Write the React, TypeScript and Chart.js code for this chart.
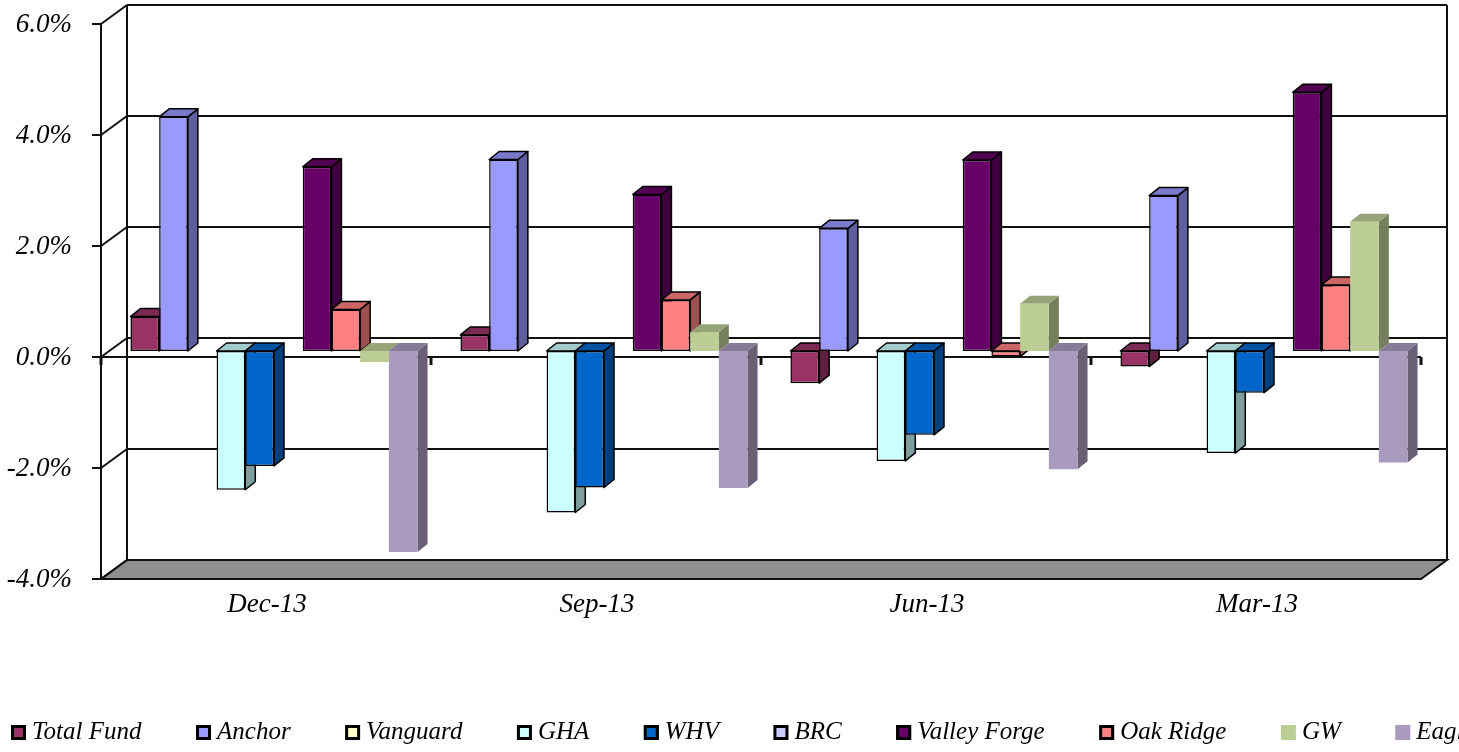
import React, { useEffect, useRef } from 'react';
import { Chart, registerables } from 'chart.js';

Chart.register(...registerables);

// ---------- data ----------
const categories = ['Dec-13', 'Sep-13', 'Jun-13', 'Mar-13'];
const seriesNames = ['Total Fund', 'Anchor', 'Vanguard', 'GHA', 'WHV', 'BRC', 'Valley Forge', 'Oak Ridge', 'GW', 'Eagle'];
const totalFund = [0.62, 0.29, -0.58, -0.28];
const anchor = [4.22, 3.45, 2.21, 2.8];
const vanguard = [null, null, null, null];
const gha = [-2.5, -2.91, -1.98, -1.84];
const whv = [-2.07, -2.46, -1.51, -0.75];
const brc = [null, null, null, null];
const valleyForge = [3.32, 2.82, 3.44, 4.66];
const oakRidge = [0.75, 0.92, -0.1, 1.19];
const gw = [-0.2, 0.34, 0.85, 2.33];
const eagle = [-3.62, -2.47, -2.13, -2.01];
const seriesValues = [totalFund, anchor, vanguard, gha, whv, brc, valleyForge, oakRidge, gw, eagle];
const seriesColors = ['#993366', '#9999FF', '#FFFFCC', '#CCFFFF', '#0066CC', '#CCCCFF', '#660066', '#FF8080', '#BCCD96', '#A99BBD'];
const seriesOutlined = [true, true, true, true, true, true, true, true, false, false];
const yMin = -4;
const yMax = 6;
const yStep = 2;

// ---------- style ----------
const FONT = '"Liberation Serif", "Times New Roman", serif';
const FRONT = { dx: -8, dy: 6 };
const BACK = { dx: 18, dy: -13 };
const DEPTH = { dx: 10, dy: -8 };

function shade(hex: string, f: number) {
  const n = parseInt(hex.slice(1), 16);
  const r = Math.round(((n >> 16) & 255) * f);
  const g = Math.round(((n >> 8) & 255) * f);
  const b = Math.round((n & 255) * f);
  return `rgb(${r},${g},${b})`;
}

function poly(ctx: CanvasRenderingContext2D, pts: number[][]) {
  ctx.beginPath();
  ctx.moveTo(pts[0][0], pts[0][1]);
  for (let i = 1; i < pts.length; i++) ctx.lineTo(pts[i][0], pts[i][1]);
  ctx.closePath();
}

function line(ctx: CanvasRenderingContext2D, x1: number, y1: number, x2: number, y2: number) {
  ctx.beginPath();
  ctx.moveTo(x1, y1);
  ctx.lineTo(x2, y2);
  ctx.stroke();
}

const wallsPlugin = {
  id: 'walls3d',
  beforeDatasetsDraw(chart: any) {
    const { ctx, chartArea } = chart;
    const ys = chart.scales.y;
    const L = chartArea.left;
    const R = chartArea.right;
    const yTop = ys.getPixelForValue(yMax);
    const yBot = ys.getPixelForValue(yMin);
    const y0 = ys.getPixelForValue(0);
    ctx.save();
    ctx.strokeStyle = '#111';
    ctx.lineWidth = 2;
    // floor
    poly(ctx, [
      [L + FRONT.dx, yBot + FRONT.dy],
      [R + FRONT.dx, yBot + FRONT.dy],
      [R + BACK.dx, yBot + BACK.dy],
      [L + BACK.dx, yBot + BACK.dy],
    ]);
    ctx.fillStyle = '#8f8f8f';
    ctx.fill();
    ctx.stroke();
    // back wall gridlines + side wall diagonals + tick marks
    for (let v = yMin; v <= yMax + 1e-9; v += yStep) {
      const p = ys.getPixelForValue(v);
      if (v > yMin) line(ctx, L + BACK.dx, p + BACK.dy, R + BACK.dx, p + BACK.dy);
      line(ctx, L + FRONT.dx, p + FRONT.dy, L + BACK.dx, p + BACK.dy);
      line(ctx, L + FRONT.dx - 9, p + FRONT.dy, L + FRONT.dx, p + FRONT.dy);
    }
    // back wall verticals
    line(ctx, L + BACK.dx, yTop + BACK.dy, L + BACK.dx, yBot + BACK.dy);
    line(ctx, R + BACK.dx, yTop + BACK.dy, R + BACK.dx, yBot + BACK.dy);
    // front vertical axis
    line(ctx, L + FRONT.dx, yTop + FRONT.dy, L + FRONT.dx, yBot + FRONT.dy);
    // front zero axis
    line(ctx, L + FRONT.dx, y0 + FRONT.dy, R + FRONT.dx, y0 + FRONT.dy);
    ctx.lineWidth = 3;
    const n = categories.length;
    for (let k = 0; k <= n; k++) {
      const bx = L + ((R - L) * k) / n + FRONT.dx;
      line(ctx, bx, y0 + FRONT.dy, bx, y0 + FRONT.dy + 8);
    }
    ctx.restore();

    // 3D side and top faces of bars (drawn left to right, fronts drawn later by Chart.js)
    const boxes: any[] = [];
    chart.data.datasets.forEach((ds: any, i: number) => {
      const meta = chart.getDatasetMeta(i);
      if (meta.hidden) return;
      meta.data.forEach((el: any, j: number) => {
        const val = ds.data[j];
        if (val === null || val === undefined) return;
        const p = el.getProps(['x', 'y', 'base', 'width'], true);
        boxes.push({
          left: p.x - p.width / 2,
          right: p.x + p.width / 2,
          top: Math.min(p.y, p.base),
          bottom: Math.max(p.y, p.base),
          color: seriesColors[i],
          outlined: seriesOutlined[i],
        });
      });
    });
    boxes.sort((a, b) => a.left - b.left);
    ctx.save();
    ctx.lineJoin = 'round';
    for (const b of boxes) {
      // side face
      poly(ctx, [
        [b.right, b.top],
        [b.right + DEPTH.dx, b.top + DEPTH.dy],
        [b.right + DEPTH.dx, b.bottom + DEPTH.dy],
        [b.right, b.bottom],
      ]);
      ctx.fillStyle = shade(b.color, 0.62);
      ctx.fill();
      if (b.outlined) {
        ctx.strokeStyle = '#000';
        ctx.lineWidth = 1.5;
        ctx.stroke();
      }
      // top face
      poly(ctx, [
        [b.left, b.top],
        [b.left + DEPTH.dx, b.top + DEPTH.dy],
        [b.right + DEPTH.dx, b.top + DEPTH.dy],
        [b.right, b.top],
      ]);
      ctx.fillStyle = shade(b.color, 0.8);
      ctx.fill();
      if (b.outlined) {
        ctx.strokeStyle = '#000';
        ctx.lineWidth = 1.5;
        ctx.stroke();
      }
    }
    ctx.restore();
  },
  afterDraw(chart: any) {
    const { ctx } = chart;
    ctx.save();
    ctx.font = `italic 25px ${FONT}`;
    ctx.textBaseline = 'middle';
    ctx.textAlign = 'left';
    let xPos = 11;
    const yc = 732;
    chart.data.datasets.forEach((ds: any, i: number) => {
      ctx.fillStyle = seriesColors[i];
      ctx.fillRect(xPos, yc - 7, 15, 15);
      if (seriesOutlined[i]) {
        ctx.strokeStyle = '#000';
        ctx.lineWidth = 3;
        ctx.strokeRect(xPos + 1.5, yc - 5.5, 12, 12);
      }
      ctx.fillStyle = '#000';
      ctx.fillText(ds.label, xPos + 21, yc);
      xPos += 21 + ctx.measureText(ds.label).width + 54.5;
    });
    ctx.restore();
  },
};

export default function App() {
  const canvasRef = useRef<HTMLCanvasElement | null>(null);

  useEffect(() => {
    if (!canvasRef.current) return;
    const chart = new Chart(canvasRef.current, {
      type: 'bar',
      data: {
        labels: categories,
        datasets: seriesNames.map((name, i) => ({
          label: name,
          data: seriesValues[i],
          backgroundColor: seriesColors[i],
          borderColor: '#000',
          borderWidth: seriesOutlined[i] ? 1.5 : 0,
          borderSkipped: false,
        })),
      },
      options: {
        responsive: false,
        animation: false,
        events: [],
        layout: { padding: { top: 18, right: 30, bottom: 0, left: 0 } },
        datasets: { bar: { categoryPercentage: 0.87, barPercentage: 1 } },
        plugins: { legend: { display: false }, tooltip: { enabled: false } },
        scales: {
          x: {
            grid: { display: false },
            border: { display: false },
            ticks: {
              color: '#000',
              font: { family: FONT, size: 27, style: 'italic' },
              padding: 8,
              labelOffset: -7,
            },
            afterFit: (s: any) => {
              s.height = 179;
              s.paddingLeft = 0;
              s.paddingRight = 0;
            },
          },
          y: {
            min: yMin,
            max: yMax,
            grid: { display: false },
            border: { display: false },
            ticks: {
              stepSize: yStep,
              color: '#000',
              font: { family: FONT, size: 27, style: 'italic' },
              padding: 29,
              labelOffset: 7,
              callback: (v: any) => Number(v).toFixed(1) + '%',
            },
            afterFit: (s: any) => {
              s.width = 109;
              s.paddingTop = 0;
              s.paddingBottom = 0;
            },
          },
        },
      },
      plugins: [wallsPlugin],
    });
    return () => chart.destroy();
  }, []);

  return (
    <div style={{ position: 'fixed', left: 0, top: 0, width: 1459, height: 752, background: '#fff' }}>
      <canvas ref={canvasRef} width={1459} height={752} style={{ display: 'block' }} />
    </div>
  );
}
